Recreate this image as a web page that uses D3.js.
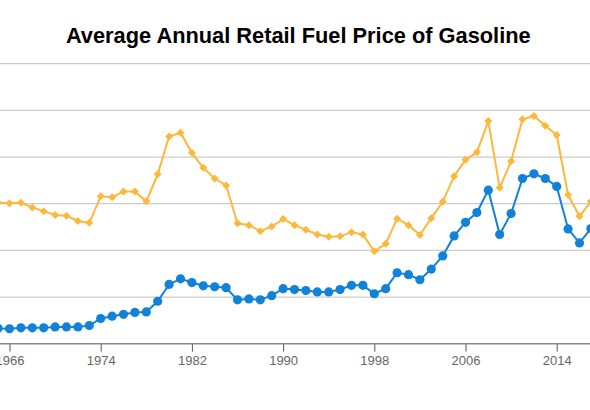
<!DOCTYPE html>
<html lang="en">
  <head>
    <meta charset="utf-8">
    <title>Gasoline price</title>
    <script src="https://d3js.org/d3.v7.min.js"></script>
    <style>
      body { margin: 0; background: #fff; }
      text { font-family: "Liberation Sans", Arial, sans-serif; }
    </style>
  </head>
  <body>
    <div id="chart"></div>
    <script>
      // years shown (the view is cropped at both sides)
      const years = [1965, 1966, 1967, 1968, 1969, 1970, 1971, 1972, 1973, 1974,
        1975, 1976, 1977, 1978, 1979, 1980, 1981, 1982, 1983, 1984,
        1985, 1986, 1987, 1988, 1989, 1990, 1991, 1992, 1993, 1994,
        1995, 1996, 1997, 1998, 1999, 2000, 2001, 2002, 2003, 2004,
        2005, 2006, 2007, 2008, 2009, 2010, 2011, 2012, 2013, 2014,
        2015, 2016, 2017];

      // nominal price ($/gal)
      const nominal = [0.33, 0.32, 0.34, 0.34, 0.34, 0.36, 0.36, 0.36, 0.39, 0.54,
        0.59, 0.63, 0.67, 0.68, 0.91, 1.27, 1.39, 1.31, 1.24, 1.22,
        1.20, 0.94, 0.96, 0.94, 1.03, 1.18, 1.16, 1.14, 1.11, 1.11,
        1.16, 1.25, 1.25, 1.07, 1.18, 1.52, 1.48, 1.37, 1.60, 1.88,
        2.31, 2.60, 2.81, 3.29, 2.34, 2.79, 3.54, 3.64, 3.54, 3.37,
        2.46, 2.16, 2.47];

      // inflation adjusted price ($/gal)
      const real = [3.02, 3.01, 3.02, 2.92, 2.84, 2.76, 2.74, 2.63, 2.59, 3.16,
        3.14, 3.26, 3.26, 3.05, 3.63, 4.44, 4.52, 4.09, 3.77, 3.54,
        3.39, 2.58, 2.54, 2.41, 2.51, 2.67, 2.54, 2.44, 2.34, 2.29,
        2.30, 2.39, 2.34, 1.98, 2.14, 2.68, 2.54, 2.33, 2.69, 3.04,
        3.59, 3.94, 4.10, 4.77, 3.34, 3.91, 4.81, 4.88, 4.67, 4.47,
        3.19, 2.73, 3.05];

      const yTicks = [0, 1, 2, 3, 4, 5, 6];
      const xTicks = [1966, 1974, 1982, 1990, 1998, 2006, 2014];

      const width = 590, height = 410;

      const svg = d3.select("#chart").append("svg")
        .attr("width", width)
        .attr("height", height);

      const x = d3.scaleLinear().domain([1966, 2014]).range([9.5, 556.7]);
      const y = d3.scaleLinear().domain([0, 6]).range([343.7, 63.7]);

      // title
      svg.append("text")
        .attr("x", 298.3)
        .attr("y", 42.5)
        .attr("text-anchor", "middle")
        .style("font-size", "21.8px")
        .style("font-weight", "bold")
        .attr("fill", "#000")
        .text("Average Annual Retail Fuel Price of Gasoline");

      // gridlines
      svg.append("g")
        .selectAll("line")
        .data(yTicks.filter(d => d > 0))
        .join("line")
          .attr("x1", 0).attr("x2", width)
          .attr("y1", d => y(d)).attr("y2", d => y(d))
          .attr("stroke", "#cccccc")
          .attr("stroke-width", 1.3);

      // x axis
      const xAxis = d3.axisBottom(x)
        .tickValues(xTicks)
        .tickFormat(d3.format("d"))
        .tickSize(8)
        .tickSizeOuter(0);

      const gx = svg.append("g")
        .attr("transform", `translate(0,${y(0)})`)
        .call(xAxis);
      gx.select(".domain").remove();
      gx.selectAll(".tick line").attr("stroke", "#555").attr("stroke-width", 1);
      gx.selectAll(".tick text")
        .attr("y", 12)
        .attr("fill", "#666")
        .style("font-size", "13px")
        .style("font-family", "'Liberation Sans', Arial, sans-serif");
      svg.append("line")
        .attr("x1", 0).attr("x2", width)
        .attr("y1", y(0)).attr("y2", y(0))
        .attr("stroke", "#888")
        .attr("stroke-width", 1.6);

      const series = [
        { name: "Real", values: real, color: "#fbb83a", shape: "diamond" },
        { name: "Nominal", values: nominal, color: "#1282d9", shape: "circle" }
      ];

      const line = d3.line()
        .x((d, i) => x(years[i]))
        .y(d => y(d));

      series.forEach(s => {
        const g = svg.append("g");
        g.append("path")
          .datum(s.values)
          .attr("d", line)
          .attr("fill", "none")
          .attr("stroke", s.color)
          .attr("stroke-width", 2);

        if (s.shape === "circle") {
          g.selectAll("circle")
            .data(s.values)
            .join("circle")
              .attr("cx", (d, i) => x(years[i]))
              .attr("cy", d => y(d))
              .attr("r", 4.6)
              .attr("fill", s.color);
        } else {
          g.selectAll("path.pt")
            .data(s.values)
            .join("path")
              .attr("class", "pt")
              .attr("d", d3.symbol(d3.symbolSquare, 32))
              .attr("transform", (d, i) => `translate(${x(years[i])},${y(d)}) rotate(45)`)
              .attr("fill", s.color);
        }
      });
    </script>
  </body>
</html>
